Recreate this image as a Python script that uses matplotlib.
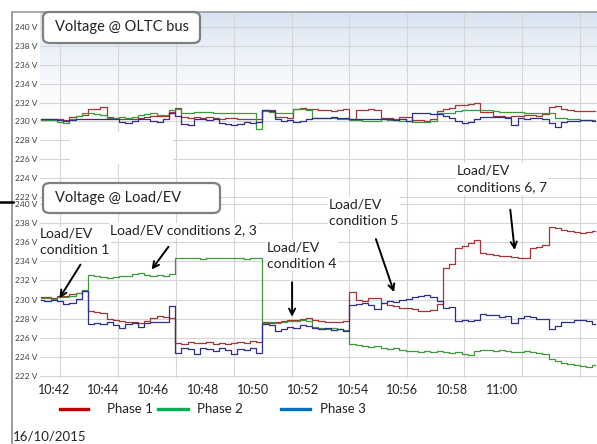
import numpy as np
import matplotlib
matplotlib.use("Agg")
import matplotlib.pyplot as plt
from matplotlib.lines import Line2D
from matplotlib.patches import FancyBboxPatch, Rectangle
from matplotlib.colors import LinearSegmentedColormap

plt.rcParams['font.family'] = ['Lato', 'DejaVu Sans']

# samples every 15 s, in minutes after 10:40
t = np.arange(1.5, 23.76, 0.25)

# Voltage @ OLTC bus
top_red = [230.2, 230.2, 230.2, 230.2, 230.1, 230.5, 230.6, 230.7, 231.3, 231.3,
           231.5, 230.5, 230.4, 230.3, 230.2, 230.3, 230.4, 230.5, 230.6, 230.6,
           230.6, 231.0, 231.4, 230.5, 230.4, 230.5, 230.4, 230.5, 230.4, 230.3,
           230.4, 230.4, 230.3, 230.2, 230.2, 230.2, 231.2, 231.2, 230.5, 230.5,
           230.4, 231.3, 231.4, 231.3, 231.3, 231.2, 231.2, 231.1, 231.2, 231.3,
           230.2, 231.2, 231.2, 231.3, 231.2, 230.4, 230.4, 230.3, 230.5, 230.5,
           230.1, 230.1, 230.0, 230.2, 231.1, 231.3, 231.4, 231.7, 231.7, 231.8,
           232.0, 231.0, 231.0, 230.6, 230.6, 230.5, 230.6, 230.6, 230.7, 230.7,
           230.6, 230.8, 231.5, 231.6, 231.3, 231.2, 231.1, 231.1, 231.1, 231.1]
top_green = [230.1, 230.1, 230.1, 229.9, 229.8, 230.3, 230.6, 230.9, 230.9, 230.8,
             230.7, 230.4, 230.4, 230.5, 230.4, 230.5, 230.7, 230.8, 230.9, 230.7,
             230.7, 231.2, 231.3, 230.9, 230.9, 231.0, 231.0, 231.0, 230.9, 230.9,
             230.9, 230.9, 230.9, 230.9, 230.9, 229.2, 231.1, 231.0, 230.9, 230.9,
             230.9, 231.3, 231.3, 231.2, 230.4, 230.4, 230.4, 230.4, 230.3, 230.2,
             230.1, 230.1, 230.0, 230.0, 230.0, 230.2, 230.1, 230.1, 230.0, 230.0,
             229.9, 229.9, 229.9, 230.0, 230.9, 230.9, 230.9, 231.1, 231.2, 231.2,
             231.2, 231.2, 231.2, 231.1, 231.0, 231.0, 231.0, 231.0, 230.9, 230.9,
             230.9, 230.9, 230.9, 230.4, 230.4, 230.3, 230.3, 230.1, 230.1, 230.1]
top_blue = [230.2, 230.2, 230.2, 230.1, 230.0, 230.1, 230.3, 230.2, 230.3, 230.2,
            230.2, 230.3, 230.3, 229.9, 229.8, 230.0, 230.3, 230.3, 230.0, 229.9,
            230.3, 230.9, 230.6, 229.7, 229.6, 230.2, 230.2, 230.1, 230.2, 229.8,
            229.7, 229.6, 229.7, 229.9, 229.8, 229.9, 231.2, 231.1, 230.3, 230.0,
            230.1, 229.9, 230.0, 230.3, 230.4, 230.4, 230.4, 230.5, 230.4, 230.4,
            230.2, 230.2, 230.2, 230.2, 230.3, 230.2, 230.3, 230.1, 230.2, 230.0,
            230.9, 230.9, 230.9, 230.8, 230.8, 230.6, 230.4, 230.0, 229.8, 229.9,
            230.3, 230.5, 230.5, 230.5, 230.5, 230.4, 229.6, 230.4, 230.3, 230.4,
            230.4, 230.3, 229.8, 229.4, 229.9, 230.0, 230.0, 230.1, 230.1, 230.0]

# Voltage @ Load/EV
bot_red = [230.3, 230.3, 230.2, 230.4, 230.4, 230.6, 230.7, 230.9, 228.8, 228.7,
           228.6, 228.0, 227.9, 227.8, 227.7, 227.6, 227.5, 227.8, 228.1, 228.3,
           228.2, 228.1, 225.5, 225.4, 225.6, 225.5, 225.5, 225.6, 225.4, 225.5,
           225.3, 225.5, 225.6, 225.5, 225.7, 225.6, 227.6, 227.5, 227.7, 227.8,
           227.9, 227.9, 228.0, 228.1, 227.9, 227.8, 227.7, 227.7, 227.6, 227.8,
           230.8, 230.0, 229.9, 230.2, 230.2, 229.6, 229.4, 229.3, 229.1, 229.1,
           229.0, 228.8, 228.8, 228.9, 229.5, 233.3, 233.7, 235.4, 235.6, 235.9,
           236.2, 234.9, 234.8, 234.7, 234.6, 234.6, 234.5, 234.4, 234.3, 235.4,
           235.5, 235.7, 237.6, 237.5, 237.3, 237.2, 237.1, 237.0, 237.1, 237.2]
bot_green = [230.2, 230.2, 230.1, 230.3, 230.3, 230.4, 230.7, 231.0, 232.6, 232.5,
             232.4, 232.3, 232.4, 232.5, 232.5, 232.7, 232.8, 232.6, 232.5, 232.6,
             232.5, 232.7, 234.4, 234.3, 234.4, 234.3, 234.2, 234.3, 234.4, 234.3,
             234.3, 234.4, 234.3, 234.2, 234.4, 234.3, 227.5, 227.6, 227.5, 227.6,
             227.8, 227.8, 227.9, 227.8, 227.1, 227.0, 226.9, 227.0, 226.9, 226.8,
             225.4, 225.2, 225.1, 225.0, 225.1, 224.9, 224.8, 224.9, 224.7, 224.6,
             224.6, 224.5, 224.6, 224.5, 224.6, 224.5, 224.4, 224.5, 224.3, 224.2,
             224.6, 224.7, 224.7, 224.6, 224.7, 224.6, 224.5, 224.5, 224.6, 224.5,
             224.4, 224.3, 223.8, 223.6, 223.4, 223.3, 223.2, 223.0, 222.9, 223.1]
bot_blue = [230.0, 229.9, 230.0, 229.9, 229.5, 229.6, 230.1, 230.9, 227.4, 227.5,
            227.4, 227.6, 227.3, 227.0, 227.4, 227.5, 227.1, 227.5, 227.6, 227.7,
            227.6, 229.3, 224.4, 224.9, 224.8, 224.3, 224.9, 224.8, 224.6, 224.9,
            224.7, 224.3, 224.8, 224.7, 224.9, 224.4, 227.4, 227.3, 226.7, 226.9,
            227.1, 227.0, 227.3, 227.2, 227.0, 226.9, 227.0, 226.8, 226.9, 226.7,
            229.4, 229.5, 229.6, 229.4, 229.0, 229.6, 229.8, 229.7, 230.0, 230.1,
            230.3, 230.4, 230.5, 230.3, 229.9, 229.1, 229.2, 227.8, 227.9, 227.8,
            227.9, 228.5, 228.4, 228.4, 228.2, 228.3, 227.5, 228.1, 228.3, 228.2,
            228.0, 228.0, 226.9, 227.2, 227.7, 227.7, 227.9, 227.9, 227.8, 227.4]

volt_ticks = list(range(222, 241, 2))
time_ticks = [2, 4, 6, 8, 10, 12, 14, 16, 18, 20]
time_labels = ['10:42', '10:44', '10:46', '10:48', '10:50', '10:52', '10:54', '10:56', '10:58', '11:00']
grid_times = [2.25, 4.58, 6.91, 9.24, 11.57, 13.86, 16.18, 18.47, 20.80, 23.13]

c_red, c_green, c_blue = '#a33535', '#3c9a3c', '#2e2e8c'

W, H = 597, 444
fig = plt.figure(figsize=(W / 100, H / 100), dpi=100)


def fx(px):
    return px / W


def fy(py):
    return 1 - py / H


ax1 = fig.add_axes([fx(40), fy(200), fx(597) - fx(40), fy(12) - fy(200)])
ax2 = fig.add_axes([fx(40), fy(378), fx(597) - fx(40), fy(198) - fy(378)])
ax1.set_ylim(221.67, 241.59)
ax2.set_ylim(221.79, 240.63)

for ax in (ax1, ax2):
    ax.set_xlim(1.446, 23.815)
    for s in ax.spines.values():
        s.set_visible(False)
    ax.set_yticks(volt_ticks)
    ax.set_yticklabels([f'{v} V' for v in volt_ticks])
    ax.tick_params(axis='y', length=0, pad=2, labelsize=6, labelcolor='#404040')
    ax.set_xticks(grid_times, minor=True)
    ax.tick_params(axis='x', which='both', length=0)
    ax.grid(axis='y', which='major', color='#d6d6d6', lw=0.8)
    ax.grid(axis='x', which='minor', color='#d6d6d6', lw=0.8)
    ax.grid(axis='x', which='major', visible=False)
    ax.set_axisbelow(True)

ax1.set_xticks([])
ax2.set_xticks(time_ticks)
ax2.set_xticklabels(time_labels)
ax2.tick_params(axis='x', labelsize=9, pad=4, labelcolor='#222222')

# light blue gradient at the top of the OLTC panel
grad = np.linspace(1, 0, 100).reshape(-1, 1) ** 1.6
cmap = LinearSegmentedColormap.from_list('g', ['white', '#d8e3f1'])
ax1.imshow(grad, cmap=cmap, aspect='auto', extent=[1.446, 23.815, 229.5, 241.59],
           zorder=0, vmin=0, vmax=1)
ax1.set_xlim(1.446, 23.815)
ax1.set_ylim(221.67, 241.59)

for ax, series in ((ax1, (top_red, top_green, top_blue)), (ax2, (bot_red, bot_green, bot_blue))):
    for vals, col in zip(series, (c_red, c_green, c_blue)):
        ax.plot(t, vals, color=col, lw=0.9, drawstyle='steps-mid', zorder=2)

# annotations
tk = dict(fontsize=10, color='#222222', linespacing=1.45, zorder=3,
          bbox=dict(facecolor='white', edgecolor='none', pad=1))
ak = dict(arrowstyle='->', color='black', lw=1.4, mutation_scale=11)
ax2.text(1.45, 237.5, 'Load/EV\ncondition 1', va='top', ha='left', **tk)
ax2.annotate('', xy=(2.17, 229.9), xytext=(3.13, 233.9), arrowprops=ak, zorder=4)
ax2.text(4.26, 237.22, 'Load/EV conditions 2, 3', va='center', ha='left', **tk)
ax2.annotate('', xy=(5.86, 232.9), xytext=(6.67, 235.75), arrowprops=ak, zorder=4)
ax2.text(10.56, 236.07, 'Load/EV\ncondition 4', va='top', ha='left', **tk)
ax2.annotate('', xy=(11.57, 227.9), xytext=(11.57, 232.1), arrowprops=ak, zorder=4)
ax2.text(13.05, 240.56, 'Load/EV\ncondition 5', va='top', ha='left', **tk)
ax2.annotate('', xy=(15.7, 230.5), xytext=(14.9, 236.6), arrowprops=ak, zorder=4)
ax2.text(18.19, 244.12, 'Load/EV\nconditions 6, 7', va='top', ha='left', **tk)
ax2.annotate('', xy=(20.52, 234.9), xytext=(20.32, 239.7), arrowprops=ak, zorder=4,
             annotation_clip=False)

# erased area in the upper panel
fig.add_artist(Rectangle((fx(70), fy(164)), fx(173) - fx(70), fy(132) - fy(164),
                         transform=fig.transFigure, facecolor='white', edgecolor='none', zorder=1))

# panel frame
fig.add_artist(Line2D([fx(12), fx(12)], [fy(12), fy(444)], color='#8c8c8c', lw=1.2))
fig.add_artist(Line2D([fx(12), fx(597)], [fy(12), fy(12)], color='#9a9a9a', lw=1.2))
fig.add_artist(Line2D([fx(0), fx(13)], [fy(202), fy(202)], color='black', lw=1.8, zorder=6))

# title boxes
for x0, x1, y0, y1, label in ((43, 200, 12, 43, 'Voltage @ OLTC bus'),
                              (43, 220, 183, 213, 'Voltage @ Load/EV')):
    box = FancyBboxPatch((fx(x0), fy(y1)), fx(x1) - fx(x0), fy(y0) - fy(y1),
                         boxstyle='round,pad=0,rounding_size=0.012',
                         transform=fig.transFigure, facecolor='white',
                         edgecolor='#7f7f7f', lw=1.6, zorder=5)
    fig.add_artist(box)
    fig.text(fx(x0 + 12), fy((y0 + y1) / 2), label, fontsize=10.5, color='#222222',
             va='center', ha='left', zorder=6)

# legend
for x0, x1, col, tx, label in ((60, 88, '#c00000', 107, 'Phase 1'),
                               (158, 188, '#00b050', 197, 'Phase 2'),
                               (281, 310, '#0070c0', 320, 'Phase 3')):
    fig.add_artist(Line2D([fx(x0), fx(x1)], [fy(409), fy(409)], color=col, lw=2.4))
    fig.text(fx(tx), fy(409), label, fontsize=9.5, color='#222222', va='center', ha='left')

fig.text(fx(13), fy(436), '16/10/2015', fontsize=9.5, color='#222222', va='center', ha='left')

fig.savefig('out.png', dpi=100)
